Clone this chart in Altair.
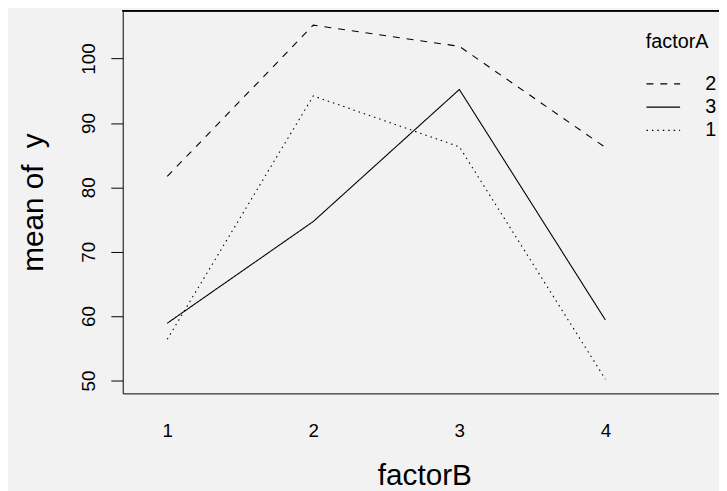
import altair as alt
import pandas as pd

factorB = [1, 2, 3, 4]
factorA_levels = ["2", "3", "1"]
mean_a1 = [56.4, 94.2, 86.3, 50.2]
mean_a2 = [81.7, 105.2, 101.9, 86.2]
mean_a3 = [58.9, 74.7, 95.2, 59.4]
y_ticks = [50, 60, 70, 80, 90, 100]

rows = []
for lvl, vals in (("1", mean_a1), ("2", mean_a2), ("3", mean_a3)):
    for b, v in zip(factorB, vals):
        rows.append({"factorB": b, "factorA": lvl, "mean": v})
df = pd.DataFrame(rows)

W, H = 603, 387
FONT = "Liberation Sans"

lines = alt.Chart(df).mark_line(color="black", strokeWidth=1.1).encode(
    x=alt.X("factorB:Q",
            scale=alt.Scale(domain=[0.695, 4.778], nice=False, zero=False),
            axis=alt.Axis(values=factorB, format="d", ticks=False, tickSize=0,
                          grid=False, domainColor="black", domainWidth=1,
                          labelFontSize=19, labelFont=FONT, labelColor="black",
                          labelBaseline="middle", labelPadding=38,
                          title="factorB", titleFont=FONT, titleFontSize=30,
                          titleFontWeight="normal", titleColor="black",
                          titleX=305, titleY=92, titleBaseline="alphabetic")),
    y=alt.Y("mean:Q",
            scale=alt.Scale(domain=[48.0, 107.44], nice=False, zero=False),
            axis=alt.Axis(values=y_ticks, grid=False, tickSize=12, tickColor="black",
                          domainColor="black", domainWidth=1,
                          labelAngle=-90, labelAlign="center", labelBaseline="alphabetic",
                          labelPadding=17, labelFontSize=19, labelFont=FONT,
                          labelColor="black",
                          title="mean of \u00a0y", titleFont=FONT, titleFontSize=30,
                          titleFontWeight="normal", titleColor="black",
                          titleAngle=-90, titleX=-81, titleY=193.5,
                          titleAlign="center", titleBaseline="alphabetic")),
    strokeDash=alt.StrokeDash("factorA:N",
                              scale=alt.Scale(domain=factorA_levels,
                                              range=[[7, 7], [1, 0], [1.5, 4]]),
                              legend=alt.Legend(title="factorA", orient="none",
                                                legendX=529, legendY=22,
                                                symbolType="M-1,0H2",
                                                symbolSize=514,
                                                symbolStrokeColor="black",
                                                symbolStrokeWidth=1.1,
                                                labelFont=FONT, labelFontSize=20,
                                                labelColor="black", labelOffset=36,
                                                titleFont=FONT, titleFontSize=20,
                                                titleFontWeight="normal",
                                                titleColor="black", titlePadding=20,
                                                rowPadding=1.5)),
)

top_line = alt.Chart(df).mark_rule(color="black", strokeWidth=1).encode(
    x=alt.value(0), x2=alt.value(W), y=alt.value(0)
)

chart = alt.layer(lines, top_line).properties(
    width=W, height=H,
    autosize=alt.AutoSizeParams(type="none"),
    padding={"left": 116, "top": 0, "right": 0, "bottom": 96},
    background="#f2f2f2",
).configure_view(strokeOpacity=0)

chart.save("out.html", embed_options={"renderer": "svg", "actions": False})
